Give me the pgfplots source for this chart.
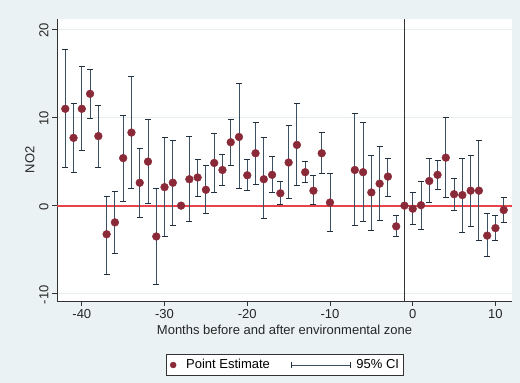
\documentclass[border=0pt]{standalone}
\usepackage{pgfplots}
\pgfplotsset{compat=1.18}
\usepackage{pgfplotstable}
\usepackage{fontspec}
\setmainfont{Liberation Sans}
\definecolor{bgc}{HTML}{EAF2F3}
\definecolor{dotc}{HTML}{8A2A38}
\definecolor{cic}{HTML}{3C5064}
\definecolor{capc}{HTML}{22303E}
\definecolor{zeroc}{HTML}{E8424A}
\definecolor{gridc}{HTML}{E6EEF0}
\definecolor{axc}{HTML}{333333}

\pgfplotstableread{
x y lo hi
-42 11.0 4.3 17.7
-41 7.7 3.8 11.6
-40 11.0 6.3 15.8
-39 12.7 9.9 15.5
-38 7.9 4.3 11.4
-37 -3.25 -7.8 1.1
-36 -1.9 -5.4 1.6
-35 5.4 0.5 10.2
-34 8.3 1.9 14.7
-33 2.6 -1.3 6.5
-32 5.0 0.3 9.8
-31 -3.5 -9.0 2.0
-30 2.1 -3.5 7.8
-29 2.6 -2.2 7.4
-28 0.0 0.0 0.0
-27 3.0 -1.8 7.9
-26 3.2 1.1 5.3
-25 1.8 -0.9 4.6
-24 4.85 1.5 8.2
-23 4.05 2.3 5.8
-22 7.2 4.6 9.8
-21 7.8 1.9 13.9
-20 3.45 1.7 5.2
-19 5.95 2.4 9.5
-18 3.0 -1.4 7.7
-17 3.5 1.5 5.6
-16 1.4 0.1 2.7
-15 4.9 0.8 9.1
-14 6.9 2.3 11.6
-13 3.8 2.6 5.0
-12 1.7 0.1 3.4
-11 5.95 3.7 8.3
-10 0.35 -2.9 3.7
-7 4.05 -2.3 10.45
-6 3.8 -1.85 9.4
-5 1.5 -2.8 5.7
-4 2.5 -1.7 6.75
-3 3.3 1.1 5.4
-2 -2.35 -3.55 -1.1
-1 0.0 0.0 0.0
0 -0.35 -2.1 1.5
1 0.05 -2.7 2.8
2 2.8 0.35 5.4
3 3.5 1.8 5.1
4 5.45 0.9 10.0
5 1.3 -0.5 3.1
6 1.2 -3.0 5.4
7 1.7 -2.35 5.7
8 1.7 -4.0 7.4
9 -3.4 -5.8 -0.9
10 -2.55 -3.9 -1.1
11 -0.5 -1.9 0.9
}\data

\pgfplotstableread{
x y
-43 0
12 0
}\zeroline

\begin{document}
\begin{tikzpicture}
\fill[bgc] (0,0) rectangle (520pt,383pt);
\begin{axis}[
  at={(57pt,82pt)}, anchor=south west,
  scale only axis, width=455pt, height=282pt,
  xmin=-43, xmax=12, ymin=-10.83, ymax=21.2,
  axis background/.style={fill=white},
  axis lines=left,
  axis line style={-, draw=axc, line width=0.7pt},
  xtick={-40,-30,...,10}, ytick={-10,0,10,20},
  tick align=outside, major tick length=5pt,
  tick style={axc, line width=0.7pt},
  ymajorgrids, grid style={gridc, line width=0.8pt},
  /pgf/number format/assume math mode=true,
  ticklabel style={font=\fontsize{13}{15}\selectfont, text=black!85},
  yticklabel style={rotate=90, anchor=south, xshift=-1pt},
  xticklabel style={yshift=0pt},
  xlabel={Months before and after environmental zone},
  ylabel={NO2},
  label style={font=\fontsize{13}{15}\selectfont, text=black!85},
  xlabel style={yshift=1pt},
  ylabel style={yshift=-2pt},
  legend columns=2,
  legend style={at={(0.5,-0.227)}, anchor=center, draw=axc, fill=white,
    font=\fontsize{13}{15}\selectfont, inner xsep=4pt, inner ysep=3pt,
    nodes={inner xsep=0pt, inner ysep=2pt},
    /tikz/every even column/.append style={column sep=21pt}},
  clip=false,
]
\addplot[forget plot, draw=zeroc, no markers, line width=1.8pt] table[x=x, y=y] {\zeroline};
\addplot[forget plot, draw=axc, no markers, line width=1pt] coordinates {(-1,-10.83) (-1,21.2)};
\addplot[forget plot, only marks, mark=none,
  error bars/.cd, y dir=both, y explicit,
  error bar style={cic, line width=0.9pt},
  error mark options={rotate=90, capc, line width=0.9pt, mark size=3pt}]
  table[x=x, y=y, y error plus expr=\thisrow{hi}-\thisrow{y}, y error minus expr=\thisrow{y}-\thisrow{lo}] {\data};
\addplot[only marks, mark=*, mark size=3.9pt, mark options={fill=dotc, draw=dotc},
  legend image code/.code={\path[draw=none, fill=none] (0pt,-3pt) rectangle (16pt,3pt); \fill[dotc] (3pt,0pt) circle (3pt);}]
  table[x=x, y=y] {\data};
\addlegendentry{Point Estimate}
\addlegendimage{legend image code/.code={
  \path[draw=none, fill=none] (0pt,-3pt) rectangle (65pt,3pt);
  \draw[cic, line width=0.8pt] (0pt,0pt) -- (59pt,0pt);
  \draw[capc, line width=0.8pt] (0pt,-3pt) -- (0pt,3pt);
  \draw[capc, line width=0.8pt] (59pt,-3pt) -- (59pt,3pt);}}
\addlegendentry{95\% CI}
\end{axis}
\end{tikzpicture}
\end{document}
